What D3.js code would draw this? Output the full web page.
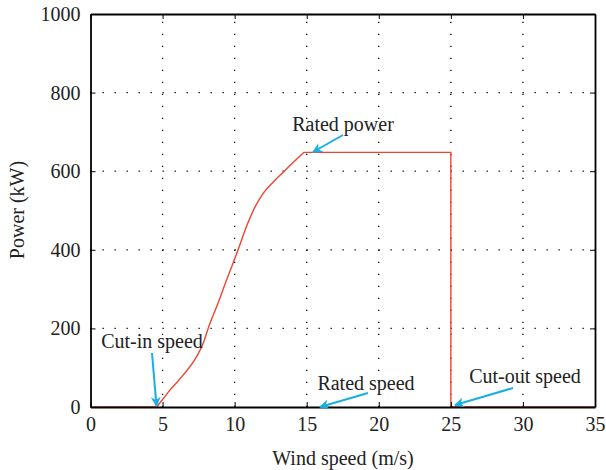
<!DOCTYPE html>
<html><head><meta charset="utf-8">
<script src="https://cdn.jsdelivr.net/npm/d3@7"></script>
<style>body{margin:0;background:#fff}</style>
</head><body>
<svg id="c" width="606" height="470"></svg>
<script>
const xTicks = [0,5,10,15,20,25,30,35];
const yTicks = [0,200,400,600,800,1000];
const windRise  = [4.59,5.0,5.51,6.43,7.36,7.82,8.16,8.75,9.44,10.24,10.82,11.4,11.97,12.67,13.36,14.05,14.8];
const powerRise = [0,19,43,81,128,162,200,255,323,400,459,508,543,572,597,622,648];
const windFlat  = [0,4.59];
const powerFlat = [0,0];
const windTail  = [14.8,25,25,35];
const powerTail = [648,648,0,0];
const annotations = [
  {text:"Cut-in speed", tx:152, ty:348, ax:152, ay:353, bx:156.5, by:406},
  {text:"Rated power", tx:343, ty:131, ax:343, ay:135, bx:313, by:152},
  {text:"Rated speed", tx:366, ty:390, ax:368, ay:393, bx:320, by:407},
  {text:"Cut-out speed", tx:525, ty:383, ax:513, ay:388, bx:455, by:405}
];
const svg = d3.select("#c");
const L=90.5, R=595, T=14, B=407;
const x = d3.scaleLinear().domain([0,35]).range([L,R]);
const y = d3.scaleLinear().domain([0,1000]).range([B,T]);
const font = "'Liberation Serif', 'Times New Roman', serif";
const FS = 20;
const g = svg.append("g");
// grid
g.selectAll(".gx").data(xTicks.slice(1,-1)).enter().append("line")
  .attr("x1",d=>x(d)).attr("x2",d=>x(d)).attr("y1",B).attr("y2",T)
  .attr("stroke","#000").attr("stroke-width",1.3).attr("stroke-dasharray","1.3,10.7");
g.selectAll(".gy").data(yTicks.slice(1,-1)).enter().append("line")
  .attr("y1",d=>y(d)).attr("y2",d=>y(d)).attr("x1",L).attr("x2",R)
  .attr("stroke","#000").attr("stroke-width",1.3).attr("stroke-dasharray","1.3,10.7");
// curve
const red = "#ee4630";
const mk = (ws,ps)=>ws.map((w,i)=>[w,ps[i]]);
g.append("path").datum(mk(windFlat,powerFlat))
  .attr("d", d3.line().x(d=>x(d[0])).y(d=>y(d[1])))
  .attr("fill","none").attr("stroke",red).attr("stroke-width",1.4);
g.append("path").datum(mk(windRise,powerRise))
  .attr("d", d3.line().curve(d3.curveMonotoneX).x(d=>x(d[0])).y(d=>y(d[1])))
  .attr("fill","none").attr("stroke",red).attr("stroke-width",1.4);
g.append("path").datum(mk(windTail,powerTail))
  .attr("d", d3.line().x(d=>x(d[0])).y(d=>y(d[1])))
  .attr("fill","none").attr("stroke",red).attr("stroke-width",1.4);
// axes
const fmt = d3.format("d");
const xa = svg.append("g").attr("transform",`translate(0,${B})`)
  .call(d3.axisBottom(x).tickValues(xTicks).tickFormat(fmt).tickSizeInner(-5).tickSizeOuter(0).tickPadding(10));
const xt = svg.append("g").attr("transform",`translate(0,${T})`)
  .call(d3.axisTop(x).tickValues(xTicks).tickSizeInner(-5).tickSizeOuter(0).tickFormat(""));
const ya = svg.append("g").attr("transform",`translate(${L},0)`)
  .call(d3.axisLeft(y).tickValues(yTicks).tickFormat(fmt).tickSizeInner(-5).tickSizeOuter(0).tickPadding(10));
const yr = svg.append("g").attr("transform",`translate(${R},0)`)
  .call(d3.axisRight(y).tickValues(yTicks).tickSizeInner(-5).tickSizeOuter(0).tickFormat(""));
[xa,xt,ya,yr].forEach(a=>{
  a.select(".domain").attr("stroke","#000").attr("stroke-width",1.8);
  a.selectAll(".tick line").attr("stroke","#000").attr("stroke-width",1);
  a.selectAll("text").attr("font-family",font).attr("font-size",FS).attr("fill","#222");
});
xa.selectAll("text").attr("dy","0.71em");
// annotations
const defs = svg.append("defs");
defs.append("marker").attr("id","ah").attr("viewBox","0 0 10 10").attr("refX",9).attr("refY",5)
  .attr("markerWidth",5).attr("markerHeight",5).attr("orient","auto")
  .append("path").attr("d","M0,0 L10,5 L0,10 L3,5 Z").attr("fill","#1aaee5");
annotations.forEach(a=>{
  svg.append("line").attr("x1",a.ax).attr("y1",a.ay).attr("x2",a.bx).attr("y2",a.by)
    .attr("stroke","#1aaee5").attr("stroke-width",2).attr("marker-end","url(#ah)");
  svg.append("text").attr("x",a.tx).attr("y",a.ty).attr("text-anchor","middle")
    .attr("font-family",font).attr("font-size",FS).attr("fill","#222").text(a.text);
});
// axis titles
svg.append("text").attr("x",343).attr("y",465).attr("text-anchor","middle")
  .attr("font-family",font).attr("font-size",FS).attr("fill","#222").text("Wind speed (m/s)");
svg.append("text").attr("transform","translate(24,210) rotate(-90)").attr("text-anchor","middle")
  .attr("font-family",font).attr("font-size",FS).attr("fill","#222").text("Power (kW)");
</script>
</body></html>
